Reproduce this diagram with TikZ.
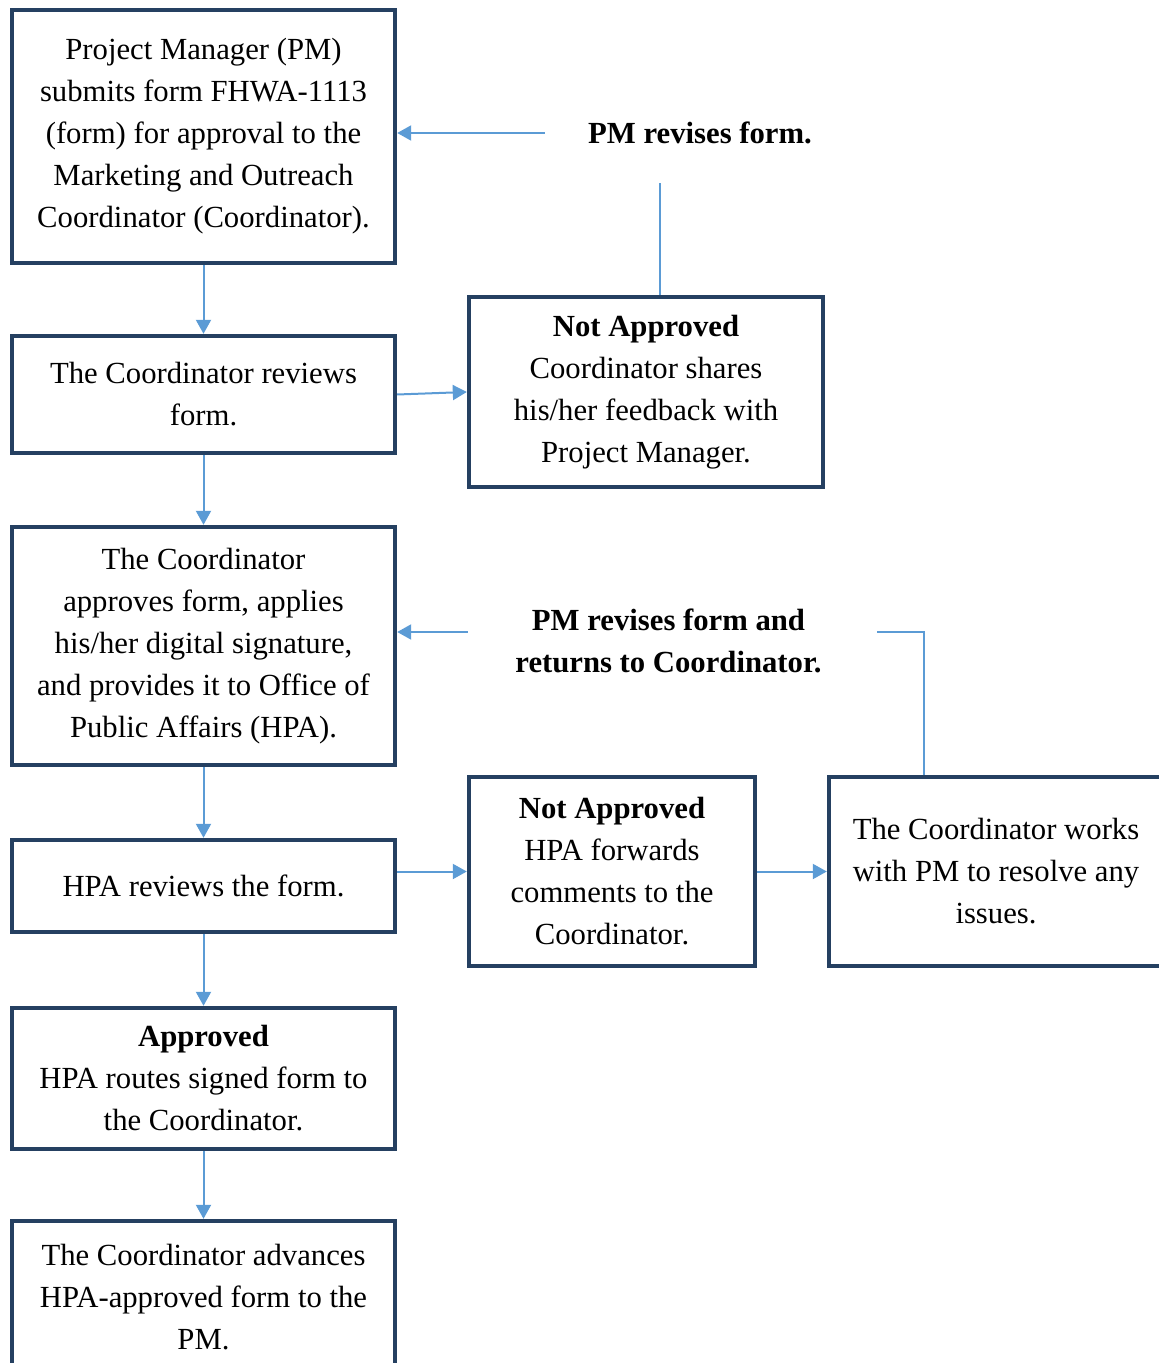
\documentclass[tikz,border=0pt]{standalone}
\usepackage{fontspec}
\setmainfont{Liberation Serif}
\usetikzlibrary{arrows.meta}
\definecolor{boxcol}{HTML}{254061}
\definecolor{linkcol}{HTML}{5B9BD5}
\tikzset{
	box/.style={draw=boxcol, line width=2.2pt, align=center, inner sep=0pt, font=\fontsize{15.35}{21}\selectfont},
	label/.style={align=center, inner sep=0pt, font=\fontsize{15.35}{21}\selectfont\bfseries},
	link/.style={draw=linkcol, line width=1pt, -{Triangle[length=7pt,width=7.5pt]}},
	plain/.style={draw=linkcol, line width=1pt}
}
\begin{document}
\begin{tikzpicture}[x=0.5pt,y=-0.5pt]
	\useasboundingbox (0,0) rectangle (1159,1363);
	% columna izquierda
	\node [box, minimum width=191.5pt, minimum height=126.5pt] (pm) at (203.5,136.5) {Project Manager (PM)\\ submits form FHWA-1113\\ (form) for approval to the\\ Marketing and Outreach\\ Coordinator (Coordinator).};
	\node [box, minimum width=191.5pt, minimum height=58.5pt] (rev) at (203.5,394.5) {The Coordinator reviews\\ form.};
	\node [box, minimum width=191.5pt, minimum height=119pt] (appr) at (203.5,646) {The Coordinator\\ approves form, applies\\ his/her digital signature,\\ and provides it to Office of\\ Public Affairs (HPA).};
	\node [box, minimum width=191.5pt, minimum height=46pt] (hpa) at (203.5,886) {HPA reviews the form.};
	\node [box, minimum width=191.5pt, minimum height=70.5pt] (ok) at (203.5,1078.5) {\textbf{Approved}\\ HPA routes signed form to\\ the Coordinator.};
	\node [box, minimum width=191.5pt, minimum height=76pt] (adv) at (203.5,1297) {The Coordinator advances\\ HPA-approved form to the\\ PM.};
	% columna derecha
	\node [box, minimum width=177pt, minimum height=95pt] (na1) at (646,392) {\textbf{Not Approved}\\ Coordinator shares\\ his/her feedback with\\ Project Manager.};
	\node [box, minimum width=143pt, minimum height=94.5pt] (na2) at (612,871.5) {\textbf{Not Approved}\\ HPA forwards\\ comments to the\\ Coordinator.};
	\node [box, minimum width=167pt, minimum height=94.5pt] (fix) at (996,871.5) {The Coordinator works\\ with PM to resolve any\\ issues.};
	\node [label, minimum width=155pt, minimum height=50pt] (rv1) at (700,133) {PM revises form.};
	\node [label, minimum width=204.5pt, minimum height=50pt] (rv2) at (672.5,641) {\hspace*{-4pt}PM revises form and\\ \hspace*{-4pt}returns to Coordinator.};
	% flechas
	\draw [link] (pm.south) -- (rev.north);
	\draw [link] (rev.south) -- (appr.north);
	\draw [link] (appr.south) -- (hpa.north);
	\draw [link] (hpa.south) -- (ok.north);
	\draw [link] (ok.south) -- (adv.north);
	\draw [link] (rev.east) -- (na1.west);
	\draw [link] (na2.west -| hpa.east) -- (na2.west);
	\draw [link] (na2.east) -- (fix.west);
	\draw [plain] ([xshift=7pt]na1.north) -- ([xshift=7pt]na1.north |- rv1.south);
	\draw [link] (rv1.west) -- (rv1.west -| pm.east);
	\draw [plain] ([xshift=-36pt]fix.north) |- ([yshift=4.5pt]rv2.east);
	\draw [link] ([yshift=4.5pt]rv2.west) -- ([yshift=4.5pt]rv2.west -| appr.east);
\end{tikzpicture}
\end{document}
